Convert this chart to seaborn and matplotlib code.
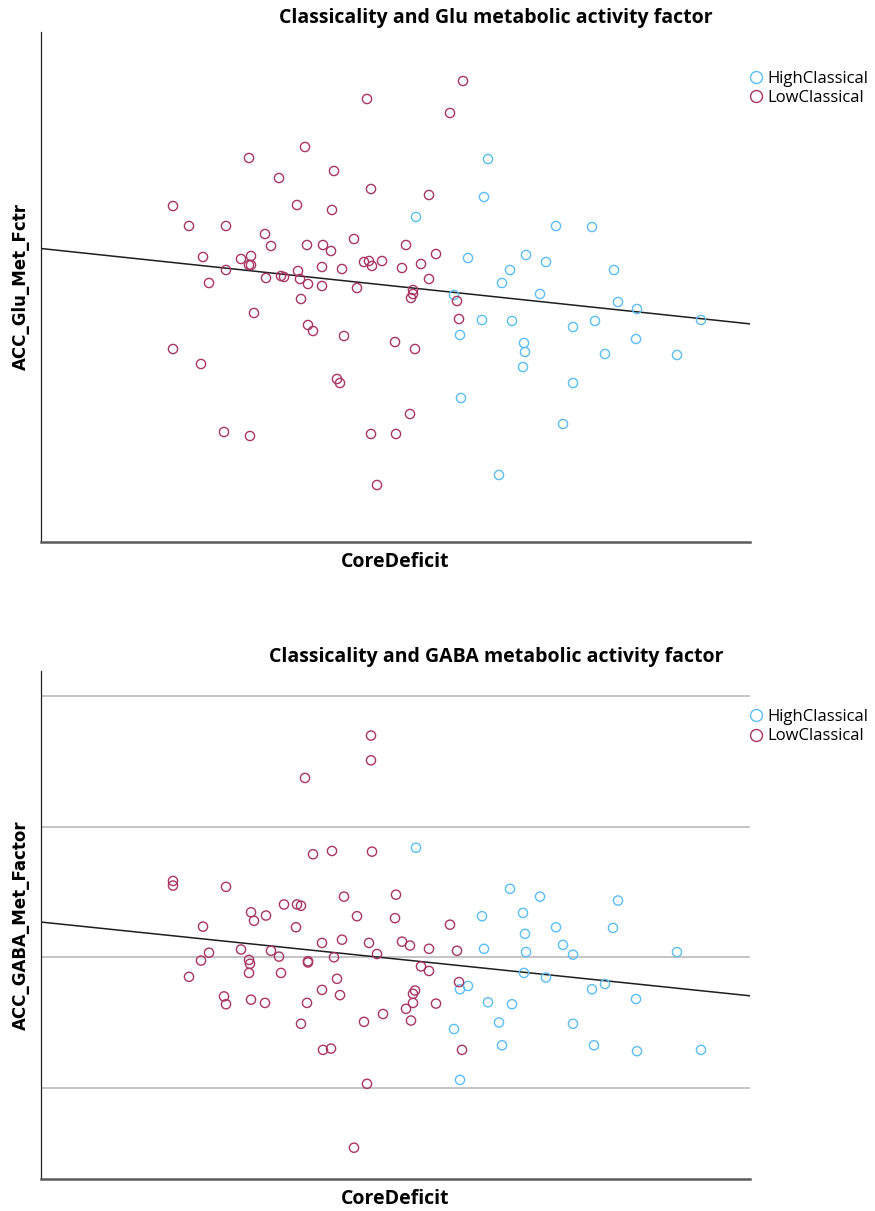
import numpy as np
import pandas as pd
import matplotlib
matplotlib.use("Agg")
import matplotlib.pyplot as plt
from matplotlib.lines import Line2D
import seaborn as sns

HIGH = "HighClassical"
LOW = "LowClassical"
group_colors = {HIGH: "#5BBEF6", LOW: "#A93561"}

# ---- ACC glutamate metabolic activity factor vs. core deficit ----
glu_low_core = [-0.53, -1.15, -1.71, -0.86, -1.41, -0.49, 0.09, -2.47, -1.23, -0.88,
                -2.31, -1.94, -1.55, -1.49, -1.13, -0.97, -0.89, -0.66, -0.14, 0.16,
                -2.17, -1.79, -1.69, -1.71, -1.69, -1.94, -2.11, -1.54, -1.39, -1.36,
                -1.22, -1.20, -1.12, -0.98, -0.98, -0.78, -0.56, -0.51, -0.48, -0.38,
                -0.63, -0.18, 0.01, 0.09, -0.07, -0.07, -0.09, -1.19, -1.66, -1.12,
                -1.07, -0.76, -0.25, -0.05, -2.47, -2.19, -0.83, -0.80, -0.10, -1.96,
                -1.70, -0.49, -0.24, -0.43, 0.43, 0.30, 0.37, 0.39]
glu_low_value = [1.86, 1.38, 1.27, 1.14, 1.07, 0.96, 0.90, 0.79, 0.80, 0.75,
                 0.59, 0.59, 0.51, 0.39, 0.40, 0.40, 0.34, 0.46, 0.40, 0.31,
                 0.28, 0.26, 0.29, 0.20, 0.20, 0.15, 0.02, 0.07, 0.09, 0.08,
                 0.14, 0.06, 0.01, 0.18, -0.01, 0.16, 0.23, 0.24, 0.19, 0.24,
                 -0.03, 0.17, 0.21, 0.06, -0.05, -0.09, -0.13, -0.14, -0.28, -0.40,
                 -0.46, -0.51, -0.57, -0.64, -0.64, -0.79, -0.94, -0.98, -1.29, -1.47,
                 -1.51, -1.49, -1.49, -2.00, 2.04, 1.72, -0.16, -0.34]
glu_high_core = [-0.04, 0.68, 0.64, 1.36, 1.72, 0.48, 1.06, 1.26, 0.90, 1.94,
                 0.82, 1.20, 0.34, 1.98, 2.17, 2.81, 0.62, 0.92, 1.53, 1.75,
                 0.40, 2.16, 1.04, 1.05, 1.85, 2.57, 1.03, 1.53, 0.41, 1.43, 0.79]
glu_high_value = [0.68, 1.26, 0.88, 0.59, 0.58, 0.27, 0.30, 0.23, 0.15, 0.15,
                  0.02, -0.09, -0.10, -0.17, -0.24, -0.35, -0.35, -0.36, -0.42, -0.36,
                  -0.50, -0.54, -0.58, -0.67, -0.69, -0.70, -0.82, -0.98, -1.13, -1.39, -1.90]

# ---- ACC GABA metabolic activity factor vs. core deficit ----
gaba_low_core = [-0.49, -0.49, -1.15, -1.07, -0.88, -0.48, -2.47, -2.47, -1.94, -0.76,
                 -0.24, -1.36, -1.23, -1.19, -1.69, -1.66, -1.54, -0.63, -0.25, -2.17,
                 -1.24, -0.98, -0.78, -0.51, -0.18, -0.10, 0.09, -2.11, -1.79, -1.49,
                 -1.41, -1.71, -1.70, -1.12, -1.12, -0.86, -0.43, -2.19, -2.31, -1.71,
                 -1.39, 0.01, 0.09, -0.83, -0.98, -0.80, -1.96, -1.94, -1.69, -1.55,
                 -1.13, -0.05, -0.07, -0.07, -0.14, 0.16, -0.37, -0.56, -0.09, -1.19,
                 -0.97, -0.89, -0.53, -0.66, 0.30, 0.37, 0.39, 0.42]
gaba_low_value = [3.40, 3.02, 2.75, 1.58, 1.63, 1.62, 1.17, 1.10, 1.08, 0.93,
                  0.96, 0.81, 0.81, 0.79, 0.69, 0.56, 0.64, 0.63, 0.60, 0.47,
                  0.46, 0.22, 0.27, 0.22, 0.24, 0.18, 0.13, 0.07, 0.12, 0.10,
                  0.01, -0.04, -0.10, -0.06, -0.08, 0.00, 0.05, -0.05, -0.30, -0.24,
                  -0.24, -0.14, -0.21, -0.33, -0.50, -0.58, -0.60, -0.72, -0.65, -0.70,
                  -0.70, -0.51, -0.56, -0.70, -0.79, -0.71, -0.87, -0.99, -0.97, -1.02,
                  -1.42, -1.40, -1.94, -2.92, 0.50, 0.10, -0.38, -1.42]
gaba_high_core = [-0.04, 0.90, 1.20, 1.98, 0.62, 1.03, 1.36, 1.93, 1.05, 1.43,
                  0.64, 1.06, 1.53, 2.57, 1.04, 1.26, 1.85, 1.72, 0.40, 0.48,
                  2.16, 0.68, 0.92, 0.34, 0.79, 1.53, 0.82, 1.74, 2.17, 2.81, 0.40]
gaba_high_value = [1.68, 1.05, 0.93, 0.87, 0.63, 0.68, 0.46, 0.45, 0.36, 0.19,
                   0.13, 0.08, 0.04, 0.08, -0.24, -0.31, -0.41, -0.49, -0.49, -0.44,
                   -0.64, -0.69, -0.72, -1.10, -1.00, -1.02, -1.35, -1.35, -1.44, -1.42, -1.88]


def make_frame(low_x, low_y, high_x, high_y, yname):
    low = pd.DataFrame({"CoreDeficit": low_x, yname: low_y, "Group": LOW})
    high = pd.DataFrame({"CoreDeficit": high_x, yname: high_y, "Group": HIGH})
    return pd.concat([high, low], ignore_index=True)


glu = make_frame(glu_low_core, glu_low_value, glu_high_core, glu_high_value, "ACC_Glu_Met_Fctr")
gaba = make_frame(gaba_low_core, gaba_low_value, gaba_high_core, gaba_high_value, "ACC_GABA_Met_Factor")

sns.set_theme(style="white")
plt.rcParams["font.family"] = ["Open Sans", "DejaVu Sans"]
plt.rcParams["text.color"] = "black"
plt.rcParams["axes.labelcolor"] = "black"

fig = plt.figure(figsize=(8.75, 12.11), dpi=100)
W, H = 875, 1211


def px_axes(left, top, right, bottom):
    return fig.add_axes([left / W, 1 - bottom / H, (right - left) / W, (bottom - top) / H])


title_font = dict(family=["Open Sans", "DejaVu Sans"], weight="bold", size=14)
xlab_font = dict(family=["Open Sans", "DejaVu Sans"], weight="bold", size=14)
ylab_font = dict(family=["DejaVu Sans"], weight="bold", size=12)


def draw_panel(ax, df, ycol, ylim, title, title_xy, legend_top, grid_ticks):
    ax.set_xlim(-3.79, 3.30)
    ax.set_ylim(*ylim)
    if grid_ticks is not None:
        for v in grid_ticks:
            ax.axhline(v, color="#b4b4b4", lw=1.1, zorder=0)
    sns.scatterplot(data=df, x="CoreDeficit", y=ycol, hue="Group",
                    hue_order=[HIGH, LOW], palette=group_colors,
                    s=44, marker="o", linewidth=1.0, legend=False, ax=ax, zorder=3)
    coll = ax.collections[-1]
    fc = coll.get_facecolors()
    coll.set_edgecolors(fc)
    coll.set_facecolors("none")
    sns.regplot(data=df, x="CoreDeficit", y=ycol, scatter=False, ci=None,
                truncate=False, line_kws=dict(color="#1e1e1e", lw=1.1), ax=ax)
    ax.set_xlim(-3.79, 3.30)
    ax.set_xticks([])
    ax.set_yticks([])
    for side in ("top", "right"):
        ax.spines[side].set_visible(False)
    ax.spines["left"].set_color("#222222")
    ax.spines["left"].set_linewidth(0.9)
    ax.spines["bottom"].set_color("#5a5a5a")
    ax.spines["bottom"].set_linewidth(1.8)
    ax.set_xlabel("CoreDeficit", fontdict=xlab_font, labelpad=7)
    ax.set_ylabel(ycol, fontdict=ylab_font, labelpad=8)
    fig.text(title_xy[0] / W, 1 - title_xy[1] / H, title, ha="center", va="center", **title_font)
    handles = [Line2D([], [], marker="o", linestyle="none", markersize=8.6,
                      markerfacecolor="none", markeredgecolor=group_colors[g],
                      markeredgewidth=1.0, label=g) for g in (HIGH, LOW)]
    fig.legend(handles=handles, loc="upper left",
               bbox_to_anchor=(748 / W, 1 - legend_top / H),
               frameon=False, prop=dict(family=["Open Sans", "DejaVu Sans"], size=12),
               handletextpad=0.2, borderpad=0, borderaxespad=0,
               labelspacing=0.2, handlelength=0.95)


ax1 = px_axes(41, 32, 750, 542)
draw_panel(ax1, glu, "ACC_Glu_Met_Fctr", (-2.57, 2.53),
           "Classicality and Glu metabolic activity factor", (496, 18), 71, None)

ax2 = px_axes(41, 671, 750, 1179)
draw_panel(ax2, gaba, "ACC_GABA_Met_Factor", (-3.40, 4.39),
           "Classicality and GABA metabolic activity factor", (496, 657), 709, [-2, 0, 2, 4])

fig.savefig("out.png", dpi=100, facecolor="white")
